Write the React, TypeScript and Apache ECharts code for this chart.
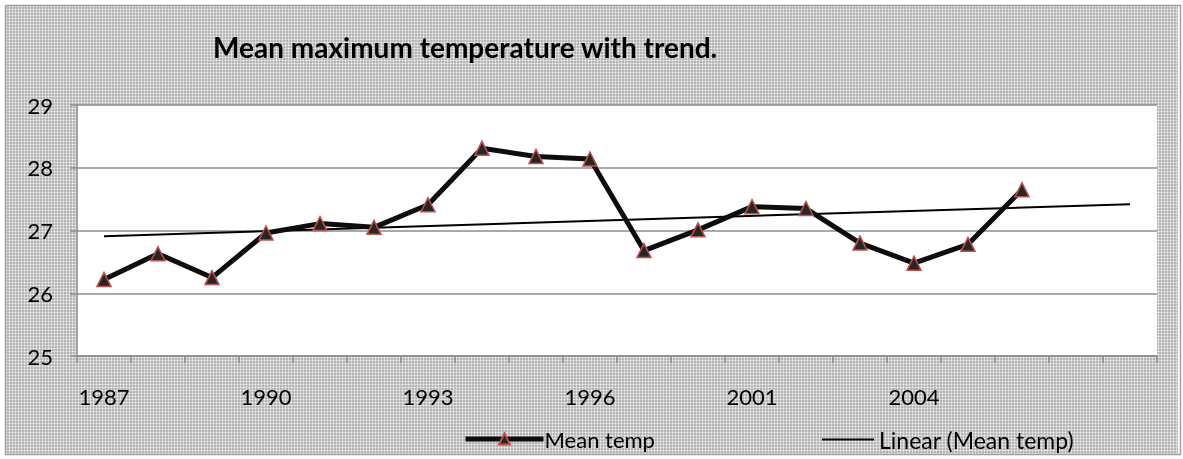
import React, { useEffect, useRef } from "react";
import * as echarts from "echarts";

const categories = ["1987", "1988", "1989", "1990", "1991", "1992", "1993", "1994", "1995", "1996", "1999", "2000", "2001", "2002", "2003", "2004", "2005", "2006", "", ""];
const meanTemp = [26.22, 26.63, 26.25, 26.96, 27.11, 27.05, 27.41, 28.31, 28.18, 28.14, 26.68, 27.01, 27.38, 27.35, 26.8, 26.48, 26.78, 27.65];
const trendStart = 26.91;
const trendEnd = 27.42;
const yTicks = { min: 25, max: 29, interval: 1 };

function makePattern(): string {
  const c = document.createElement("canvas");
  c.width = 3;
  c.height = 3;
  const ctx = c.getContext("2d")!;
  ctx.fillStyle = "#b6b6b6";
  ctx.fillRect(0, 0, 3, 3);
  ctx.fillStyle = "#d2d2d2";
  ctx.fillRect(0, 0, 3, 1);
  ctx.fillRect(0, 0, 1, 3);
  ctx.fillStyle = "#f2f2f2";
  ctx.fillRect(0, 0, 1, 1);
  return c.toDataURL();
}

export default function App() {
  const ref = useRef<HTMLDivElement>(null);
  useEffect(() => {
    if (!ref.current) return;
    const chart = echarts.init(ref.current, null, { renderer: "svg" });
    const font = "Lato";
    const trendData: (number | null)[] = categories.map(() => null);
    trendData[0] = trendStart;
    trendData[categories.length - 1] = trendEnd;
    chart.setOption({
      animation: false,
      backgroundColor: { image: makePattern(), repeat: "repeat" } as any,
      textStyle: { fontFamily: font },
      graphic: [
        {
          type: "rect",
          shape: { x: 0, y: 0, width: 1183, height: 459 },
          style: { fill: "none", stroke: "#ffffff", lineWidth: 10 },
          silent: true,
        },
        {
          type: "rect",
          shape: { x: 5.5, y: 5.5, width: 1175, height: 449 },
          style: { fill: "none", stroke: "#a0a0a0", lineWidth: 1.5 },
          silent: true,
        },
      ],
      title: {
        text: "Mean maximum temperature with trend.",
        left: 208,
        top: 28,
        textStyle: { fontFamily: font, fontWeight: "bold", fontSize: 28, color: "#000" },
      },
      grid: {
        left: 77,
        right: 26,
        top: 105,
        bottom: 103,
        show: true,
        backgroundColor: "#ffffff",
        borderWidth: 0,
      },
      legend: [
        {
          data: [{ name: "Mean temp" }],
          left: 458,
          top: 423,
          itemWidth: 78,
          itemHeight: 14,
          lineStyle: { width: 5, color: "#0d0d0d" },
          textStyle: { fontFamily: font, fontSize: 22, color: "#000", padding: [0, 0, 0, -4] },
        },
        {
          data: [{ name: "Linear (Mean temp)", icon: "rect" }],
          left: 817,
          top: 423,
          itemWidth: 52,
          itemHeight: 2,
          itemStyle: { color: "#000" },
          textStyle: { fontFamily: font, fontSize: 23, color: "#000", padding: [0, 0, 0, 0] },
        },
      ],
      xAxis: {
        type: "category",
        data: categories,
        boundaryGap: true,
        axisLine: { show: true, lineStyle: { color: "#8c8c8c", width: 1.5 } },
        axisTick: { show: true, interval: 0, length: 7, lineStyle: { color: "#8c8c8c", width: 1.5 } },
        axisLabel: { interval: 2, margin: 29, fontSize: 22, color: "#000", fontFamily: font },
        splitLine: { show: false },
      },
      yAxis: {
        type: "value",
        min: yTicks.min,
        max: yTicks.max,
        interval: yTicks.interval,
        axisLine: { show: true, lineStyle: { color: "#8c8c8c", width: 1.5 } },
        axisTick: { show: true, length: 7, lineStyle: { color: "#8c8c8c", width: 1.5 } },
        axisLabel: { margin: 24, fontSize: 22, color: "#000", fontFamily: font },
        splitLine: { show: true, lineStyle: { color: "#8c8c8c", width: 1.5 } },
      },
      series: [
        {
          name: "Mean temp",
          type: "line",
          data: meanTemp,
          symbol: "triangle",
          symbolSize: 14,
          lineStyle: { color: "#0d0d0d", width: 5 },
          itemStyle: { color: "#262626", borderColor: "#c0504d", borderWidth: 1.5 },
          z: 3,
        },
        {
          name: "Linear (Mean temp)",
          type: "line",
          data: trendData,
          connectNulls: true,
          symbol: "none",
          lineStyle: { color: "#000", width: 2 },
          itemStyle: { color: "#000" },
          z: 2,
        },
      ],
    });
    return () => chart.dispose();
  }, []);
  return <div ref={ref} style={{ position: "fixed", left: 0, top: 0, width: 1183, height: 459 }} />;
}
